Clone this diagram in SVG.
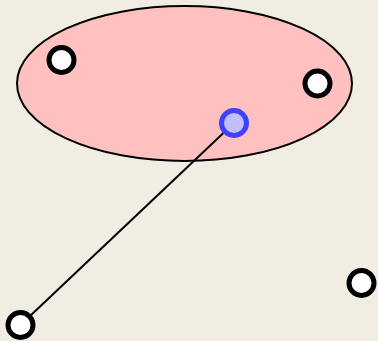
<svg xmlns="http://www.w3.org/2000/svg" width="378" height="341" viewBox="0 0 378 341">
<style>
.n{fill:#ffffff;stroke:#000000;stroke-width:5}
.b{fill:#c0c0ff;stroke:#4040ff;stroke-width:5}
.e{fill:#ffc0c0;stroke:#000000;stroke-width:2}
.c{stroke:#000000;stroke-width:2;fill:none}
</style>
<rect width="378" height="341" fill="#f2ede2"/>
<g id="group"><ellipse class="e" cx="184.5" cy="83.5" rx="167.5" ry="77.5"/></g>
<g id="connectors"><line class="c" x1="234" y1="123" x2="20.5" y2="325"/></g>
<g id="n1"><circle class="n" cx="61.5" cy="60" r="12.5"/></g>
<g id="n2"><circle class="n" cx="317.5" cy="83.5" r="12.5"/></g>
<g id="n3"><circle class="b" cx="234" cy="123" r="12.5"/></g>
<g id="n4"><circle class="n" cx="20.5" cy="325" r="12.5"/></g>
<g id="n5"><circle class="n" cx="361.5" cy="283" r="12.5"/></g>
</svg>
